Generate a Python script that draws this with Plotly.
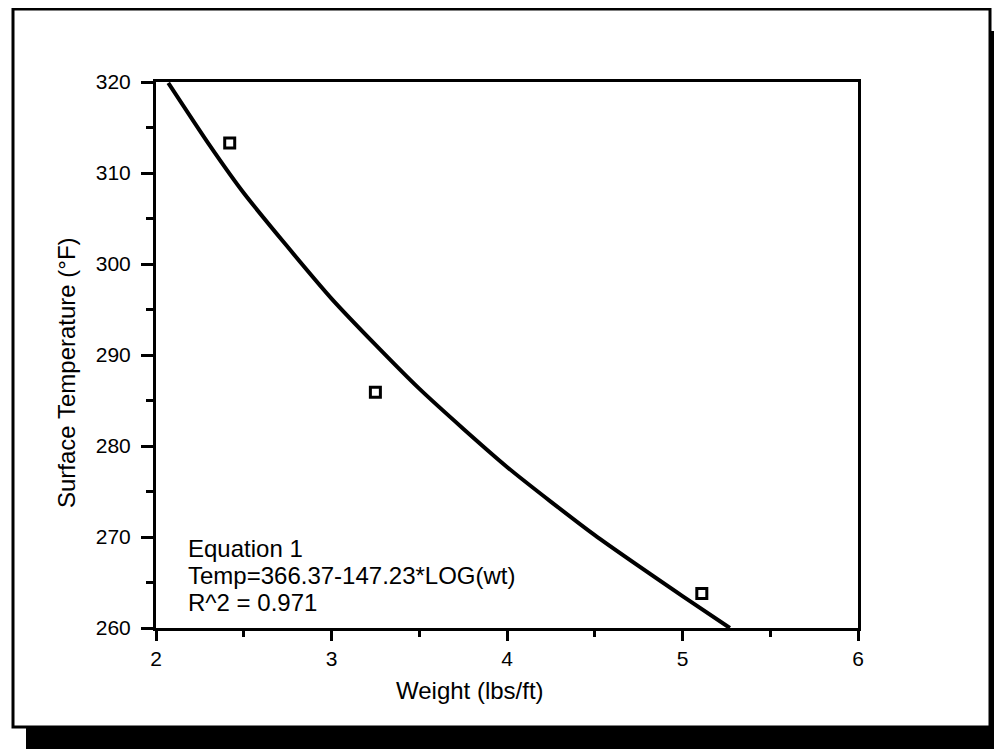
import plotly.graph_objects as go

# Data
weight_obs = [2.42, 3.25, 5.11]
temp_obs = [313.3, 285.9, 263.8]

curve_wt = [2.07, 2.3, 2.5, 3.0, 3.5, 4.0, 4.5, 5.0, 5.27]
curve_temp = [319.9, 313.2, 307.8, 296.2, 286.3, 277.7, 270.2, 263.5, 260.0]

x_ticks = [2, 3, 4, 5, 6]
y_ticks = [260, 270, 280, 290, 300, 310, 320]

eq_lines = ["Equation 1", "Temp=366.37-147.23*LOG(wt)", "R^2 = 0.971"]
x_title = "Weight (lbs/ft)"
y_title = "Surface Temperature (°F)"

OFF = 8  # page body margin
W, H = 1002 - OFF, 749 - OFF
# plot area in page pixels
L, R, T, B = 156, 858, 82, 628
FONT = "Liberation Sans, Arial, Helvetica, sans-serif"


def px(x):
    return (x - L) / (R - L)


def py(y):
    return (B - y) / (B - T)


fig = go.Figure()
fig.add_trace(go.Scatter(x=curve_wt, y=curve_temp, mode="lines",
                         line=dict(color="black", width=4, shape="spline", smoothing=0.6),
                         showlegend=False, hoverinfo="skip"))
fig.add_trace(go.Scatter(x=weight_obs, y=temp_obs, mode="markers",
                         marker=dict(symbol="square-open", size=10, color="black",
                                     line=dict(color="black", width=3)),
                         showlegend=False))

shapes = [
    dict(type="rect", xref="paper", yref="paper", layer="below",
         x0=px(26), x1=px(1010), y0=py(760), y1=py(31),
         fillcolor="black", line=dict(width=0)),
    dict(type="rect", xref="paper", yref="paper", layer="below",
         x0=px(13), x1=px(990), y0=py(727), y1=py(9),
         fillcolor="white", line=dict(color="black", width=3)),
]

annotations = []
for i, t in enumerate(eq_lines):
    annotations.append(dict(text=t, xref="paper", yref="paper",
                            x=px(186), y=py(548 + 27 * i), xanchor="left",
                            yanchor="middle", showarrow=False,
                            font=dict(family=FONT, size=24, color="black")))
annotations.append(dict(text=x_title, xref="paper", yref="paper",
                        x=px(470), y=py(690), xanchor="center", yanchor="middle",
                        showarrow=False, font=dict(family=FONT, size=24, color="black")))
annotations.append(dict(text=y_title, xref="paper", yref="paper",
                        x=px(66), y=py(373), xanchor="center", yanchor="middle",
                        textangle=-90, showarrow=False,
                        font=dict(family=FONT, size=24, color="black")))

fig.update_layout(
    width=W, height=H,
    margin=dict(l=L - OFF, r=W - (R - OFF), t=T - OFF, b=H - (B - OFF), pad=0),
    paper_bgcolor="white", plot_bgcolor="white",
    shapes=shapes, annotations=annotations,
    font=dict(family=FONT, color="black"),
)
fig.update_xaxes(range=[2, 6], tickvals=x_ticks, ticktext=[str(v) for v in x_ticks],
                 showgrid=False, zeroline=False, showline=True, linecolor="black",
                 linewidth=3, mirror=True, ticks="outside", ticklen=10, tickwidth=3,
                 tickcolor="black", tickfont=dict(family=FONT, size=21, color="black"),
                 minor=dict(tickvals=[2.5, 3.5, 4.5, 5.5], ticks="outside", ticklen=6,
                            tickwidth=3, tickcolor="black"),
                 fixedrange=True)
fig.update_yaxes(range=[260, 320], tickvals=y_ticks, ticktext=[str(v) for v in y_ticks],
                 showgrid=False, zeroline=False, showline=True, linecolor="black",
                 linewidth=3, mirror=True, ticks="outside", ticklen=12, tickwidth=3,
                 tickcolor="black", tickfont=dict(family=FONT, size=21, color="black"),
                 ticklabelstandoff=6,
                 minor=dict(tickvals=[265, 275, 285, 295, 305, 315], ticks="outside",
                            ticklen=7, tickwidth=3, tickcolor="black"),
                 fixedrange=True)

fig.write_html("out.html")
